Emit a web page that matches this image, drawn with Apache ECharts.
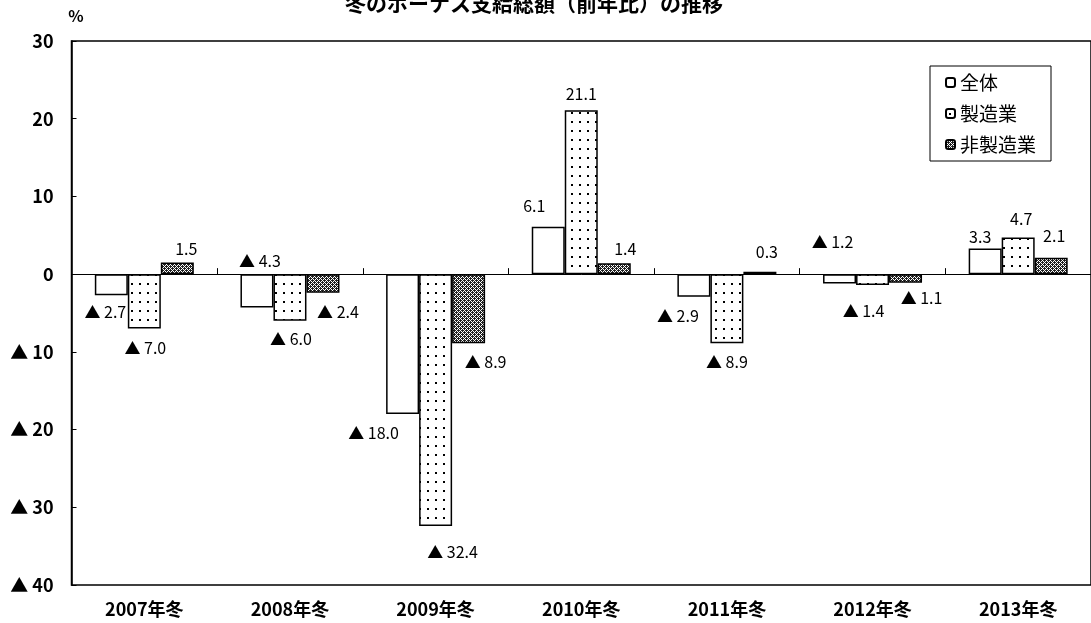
<!DOCTYPE html>
<html>
<head>
<meta charset="utf-8">
<script src="https://cdn.jsdelivr.net/npm/echarts@6/dist/echarts.min.js"></script>
<style>
html,body{margin:0;padding:0;background:#fff;}
#chart{width:1091px;height:623px;}
</style>
</head>
<body>
<div id="chart"></div>
<script>
// ---- data ----
const categories = ['2007年冬', '2008年冬', '2009年冬', '2010年冬', '2011年冬', '2012年冬', '2013年冬'];
const seriesNames = ['全体', '製造業', '非製造業'];
const overall = [-2.7, -4.3, -18.0, 6.1, -2.9, -1.2, 3.3];
const manufacturing = [-7.0, -6.0, -32.4, 21.1, -8.9, -1.4, 4.7];
const nonManufacturing = [1.5, -2.4, -8.9, 1.4, 0.3, -1.1, 2.1];
const yMin = -40, yMax = 30, yStep = 10;

// ---- label placement tweaks (style only) ----
const labelTweaks = [
  [[-6, 4], [3, 0, 'top'], [-29, 6], [-14, -8], [-16, 6], [-7, -19, 'top'], [-5, 1]],
  [[1, 6], [1, 5], [17, 13], [0, -3], [0, 6], [-9, 13], [3, -6]],
  [[9, -1], [15, 6], [17, 6], [11, -1], [7, -7], [16, 2], [3, -9]]
];

function fmt(v) {
  return v < 0 ? '▲ ' + Math.abs(v).toFixed(1) : v.toFixed(1);
}

// ---- patterns ----
function dotPattern() {
  const c = document.createElement('canvas');
  c.width = 8; c.height = 9;
  const g = c.getContext('2d');
  g.fillStyle = '#fff'; g.fillRect(0, 0, 8, 9);
  g.fillStyle = '#000'; g.fillRect(3, 4, 2, 2);
  return c;
}
function hatchPattern() {
  const c = document.createElement('canvas');
  c.width = 4; c.height = 4;
  const g = c.getContext('2d');
  g.fillStyle = '#fff'; g.fillRect(0, 0, 4, 4);
  g.fillStyle = '#222';
  for (let x = 0; x < 4; x++) for (let y = 0; y < 4; y++) {
    if ((x + y) % 4 !== 2 && (x - y + 4) % 4 !== 2) g.fillRect(x, y, 1, 1);
  }
  return c;
}

const fills = ['#ffffff', { image: dotPattern(), repeat: 'repeat' }, { image: hatchPattern(), repeat: 'repeat' }];
const values = [overall, manufacturing, nonManufacturing];

const FONT = '"Noto Sans CJK JP", "Noto Sans", sans-serif';

const series = values.map((arr, si) => ({
  name: seriesNames[si],
  type: 'bar',
  xAxisIndex: 0,
  barWidth: 33,
  barGap: '0%',
  itemStyle: { color: fills[si], borderColor: '#000', borderWidth: 1.5 },
  label: {
    show: true,
    formatter: p => fmt(p.value),
    color: '#000',
    fontFamily: FONT,
    fontSize: 16,
    distance: 5
  },
  data: arr.map((v, i) => {
    const t = labelTweaks[si][i];
    return {
      value: v,
      label: { position: t[2] || (v < 0 ? 'bottom' : 'top'), offset: [t[0], t[1]] }
    };
  })
}));

const chart = echarts.init(document.getElementById('chart'), null, { renderer: 'canvas' });
chart.setOption({
  animation: false,
  backgroundColor: '#fff',
  title: {
    text: '冬のボーナス支給総額（前年比）の推移',
    left: 529,
    textAlign: 'center',
    top: -12,
    textStyle: { fontFamily: FONT, fontSize: 21, fontWeight: 'bold', color: '#000' }
  },
  legend: {
    orient: 'vertical',
    left: 930,
    top: 66,
    padding: [7, 15, 7, 15],
    itemGap: 12,
    itemWidth: 9,
    itemHeight: 9,
    borderColor: '#000',
    borderWidth: 1,
    backgroundColor: '#fff',
    textStyle: { fontFamily: FONT, fontSize: 19, color: '#000' },
    data: seriesNames
  },
  grid: {
    left: 71.5,
    top: 41,
    width: 1025,
    height: 544,
    show: true,
    borderColor: '#000',
    borderWidth: 1.5,
    backgroundColor: 'transparent'
  },
  xAxis: [
    {
      type: 'category',
      data: categories,
      position: 'bottom',
      axisLine: { show: false, onZero: false },
      axisTick: { show: false },
      axisLabel: { fontFamily: FONT, fontSize: 18, fontWeight: 'bold', color: '#000', margin: 15 },
      splitLine: { show: false }
    },
    {
      type: 'category',
      data: categories,
      position: 'bottom',
      axisLine: { show: true, onZero: true, lineStyle: { color: '#000', width: 1 } },
      axisTick: { show: true, inside: true, length: 6, lineStyle: { color: '#000' } },
      axisLabel: { show: false },
      splitLine: { show: false }
    }
  ],
  yAxis: {
    type: 'value',
    min: yMin,
    max: yMax,
    interval: yStep,
    name: '%',
    nameLocation: 'end',
    nameGap: 17,
    nameTextStyle: { fontFamily: FONT, fontSize: 16, fontWeight: 'bold', color: '#000', padding: [0, 0, 0, 9] },
    axisLine: { show: true, lineStyle: { color: '#000', width: 1.5 } },
    axisTick: { show: true, inside: true, length: 5, lineStyle: { color: '#000' } },
    splitLine: { show: false },
    axisLabel: {
      fontFamily: FONT, fontSize: 18, fontWeight: 'bold', color: '#000', margin: 18,
      formatter: v => v < 0 ? '▲ ' + Math.abs(v) : String(v)
    }
  },
  series: series
});
</script>
</body>
</html>
